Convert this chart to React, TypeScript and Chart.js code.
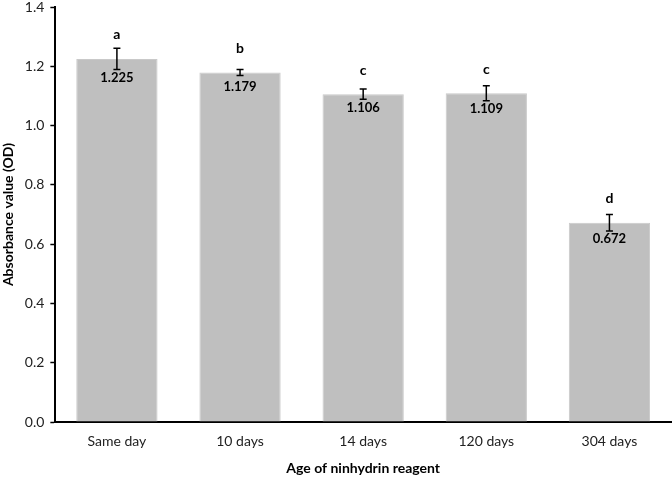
import React, { useEffect, useRef } from "react";
import { Chart, registerables } from "chart.js";

Chart.register(...registerables);

const categories = ["Same day", "10 days", "14 days", "120 days", "304 days"];
const values = [1.225, 1.179, 1.106, 1.109, 0.672];
const errors = [0.036, 0.01, 0.017, 0.025, 0.028];
const letters = ["a", "b", "c", "c", "d"];
const yTicks = [0, 0.2, 0.4, 0.6, 0.8, 1.0, 1.2, 1.4];

const FONT = "Lato, 'Open Sans', 'Noto Sans', sans-serif";

const annotPlugin = {
  id: "annot",
  afterDatasetsDraw(chart: any) {
    const ctx = chart.ctx;
    const meta = chart.getDatasetMeta(0);
    const y = chart.scales.y;
    ctx.save();
    meta.data.forEach((bar: any, i: number) => {
      const x = bar.x;
      const v = values[i];
      const e = errors[i];
      const top = y.getPixelForValue(v + e);
      const bot = y.getPixelForValue(v - e);
      const barTop = y.getPixelForValue(v);
      ctx.strokeStyle = "#000";
      ctx.lineWidth = 1.5;
      ctx.beginPath();
      ctx.moveTo(x, top);
      ctx.lineTo(x, bot);
      ctx.moveTo(x - 3.5, top);
      ctx.lineTo(x + 3.5, top);
      ctx.moveTo(x - 3.5, bot);
      ctx.lineTo(x + 3.5, bot);
      ctx.stroke();
      ctx.fillStyle = "#000";
      ctx.textAlign = "center";
      ctx.textBaseline = "middle";
      ctx.font = `bold 13px ${FONT}`;
      const labelY = Math.max(barTop + 14, bot + 8);
      ctx.fillText(v.toFixed(3), x, labelY);
      ctx.font = `bold 14px ${FONT}`;
      ctx.fillText(letters[i], x, barTop - 24);
    });
    ctx.restore();
  },
};

export default function App() {
  const ref = useRef<HTMLCanvasElement | null>(null);
  useEffect(() => {
    document.body.style.margin = "0";
    const chart = new Chart(ref.current as HTMLCanvasElement, {
      type: "bar",
      data: {
        labels: categories,
        datasets: [
          {
            data: values,
            backgroundColor: "#BFBFBF",
            borderColor: "#C9C9C9",
            borderWidth: 1,
            barPercentage: 0.66,
            categoryPercentage: 1,
          },
        ],
      },
      options: {
        animation: false,
        responsive: false,
        maintainAspectRatio: false,
        layout: { padding: { top: 0, right: 1, left: 0, bottom: 0 } },
        plugins: { legend: { display: false }, tooltip: { enabled: false } },
        scales: {
          x: {
            offset: true,
            grid: { display: false, drawTicks: false },
            border: { color: "#000", width: 2 },
            ticks: {
              color: "#222",
              font: { family: FONT, size: 14, lineHeight: 1 },
              padding: 12,
            },
            title: {
              display: true,
              text: "Age of ninhydrin reagent",
              color: "#000",
              font: { family: FONT, size: 14, weight: "bold", lineHeight: 1 },
              padding: { top: 1, bottom: 2 },
            },
          },
          y: {
            min: 0,
            max: 1.4,
            afterBuildTicks: (axis: any) => {
              axis.ticks = yTicks.map((v) => ({ value: v }));
            },
            grid: {
              drawOnChartArea: false,
              drawTicks: true,
              tickLength: 5,
              tickColor: "#000",
              tickWidth: 1.5,
            },
            border: { color: "#000", width: 2 },
            ticks: {
              color: "#222",
              font: { family: FONT, size: 14, lineHeight: 1 },
              padding: 6,
              callback: (v: any) => Number(v).toFixed(1),
            },
            title: {
              display: true,
              text: "Absorbance value (OD)",
              color: "#000",
              font: { family: FONT, size: 14, weight: "bold" },
              padding: { top: 0, bottom: 2 },
            },
          },
        },
      },
      plugins: [annotPlugin],
    });
    return () => chart.destroy();
  }, []);
  return (
    <div style={{ width: 672, height: 477, background: "#fff", overflow: "hidden" }}>
      <canvas
        ref={ref}
        width={672}
        height={483}
        style={{ display: "block", marginTop: -6 }}
      />
    </div>
  );
}
